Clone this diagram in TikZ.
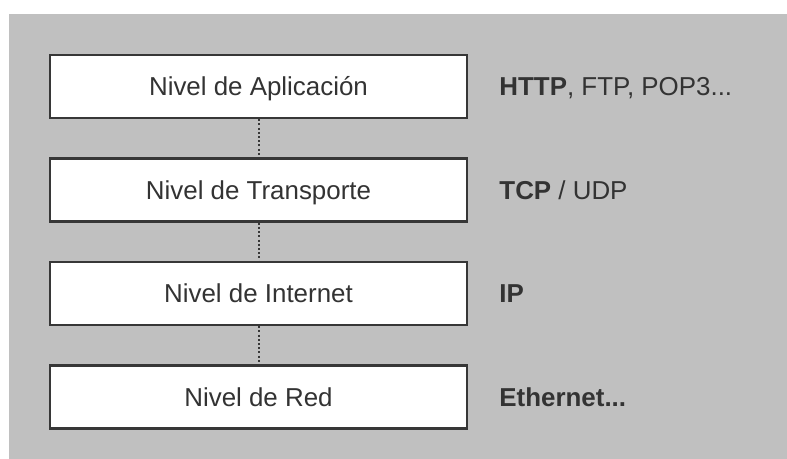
\documentclass[tikz,border=0pt]{standalone}
\usepackage{fontspec}
\setmainfont{Liberation Sans}
\usetikzlibrary{positioning}
\definecolor{fondo}{RGB}{192,192,192}
\definecolor{borde}{RGB}{55,55,55}
\definecolor{texto}{RGB}{51,51,51}

\begin{document}
\begin{tikzpicture}[x=1bp,y=-1bp,node distance=38bp,
  nivel/.style={draw=borde,line width=2.5bp,fill=white,minimum width=417bp,minimum height=63bp,inner sep=0pt,text height=18.6bp,text depth=0pt,text=texto,font=\fontsize{26}{30}\selectfont},
  proto/.style={anchor=west,inner sep=0pt,text height=18.6bp,text depth=0pt,text=texto,font=\fontsize{26}{30}\selectfont},
  enlace/.style={draw=borde,line width=2bp,dash pattern=on 2bp off 2.2bp}]
\useasboundingbox (0,0) rectangle (787,459);
\fill[fondo] (9,14) rectangle (787,459);
% niveles
\node[nivel] (aplicacion) at (258.5,86.5) {Nivel de Aplicación};
\node[nivel,below=of aplicacion] (transporte) {Nivel de Transporte};
\node[nivel,below=of transporte] (internet) {Nivel de Internet};
\node[nivel,below=of internet] (red) {Nivel de Red};
% protocolos
\node[proto,right=31bp of aplicacion.east] (pAplicacion) {\textbf{HTTP}, FTP, POP3...};
\node[proto,right=31bp of transporte.east] (pTransporte) {\textbf{TCP} / UDP};
\node[proto,right=31bp of internet.east] (pInternet) {\textbf{IP}};
\node[proto,right=31bp of red.east] (pRed) {\textbf{Ethernet...}};
\path[enlace] (aplicacion.south) -- (transporte.north);
\path[enlace] (transporte.south) -- (internet.north);
\path[enlace] (internet.south) -- (red.north);
\end{tikzpicture}
\end{document}
